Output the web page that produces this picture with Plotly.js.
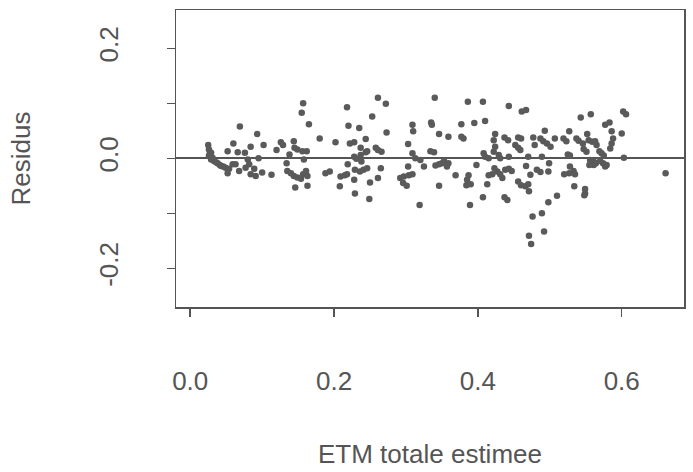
<!DOCTYPE html>
<html><head><meta charset="utf-8">
<script src="https://cdn.plot.ly/plotly-3.0.1.min.js"></script>
<style>html,body{margin:0;padding:0;background:#fff}#chart{width:693px;height:472px}</style>
</head><body><div id="chart"></div>
<script>
// ETM totale estimee (x) and Residus (y)
const etm = [
0.157,0.155,0.165,0.069,0.093,0.180,0.060,0.025,0.084,0.102,0.126,0.129,0.144,0.120,0.066,0.076,0.052,0.026,0.029,0.145,
0.149,0.156,0.162,0.138,0.095,0.158,0.026,0.029,0.033,0.038,0.043,0.049,0.054,0.059,0.063,0.080,0.082,0.077,0.089,0.068,
0.052,0.084,0.091,0.100,0.113,0.134,0.135,0.140,0.144,0.149,0.154,0.157,0.161,0.163,0.146,0.163,
0.027,0.031,0.036,0.041,0.046,
0.261,0.272,0.340,0.218,0.253,0.220,0.235,0.273,0.202,0.244,0.309,0.310,0.335,0.336,0.346,0.303,0.222,0.228,0.237,0.258,
0.261,0.266,0.244,0.246,0.228,0.231,0.237,0.238,0.334,0.339,0.309,0.313,0.320,0.325,0.341,0.346,0.350,0.353,0.219,0.188,
0.194,0.209,0.215,0.218,0.229,0.236,0.241,0.246,0.228,0.250,0.261,0.265,0.303,0.292,0.297,0.304,0.309,0.296,0.301,0.208,
0.346,0.229,0.249,0.319,
0.386,0.407,0.443,0.461,0.467,0.377,0.395,0.410,0.359,0.377,0.380,0.424,0.422,0.437,0.442,0.456,0.460,0.452,0.456,0.459,
0.477,0.493,0.487,0.491,0.496,0.501,0.479,0.507,0.424,0.422,0.408,0.410,0.415,0.429,0.431,0.443,0.470,0.489,0.499,0.359,
0.357,0.398,0.423,0.427,0.431,0.434,0.438,0.443,0.447,0.415,0.420,0.467,0.482,0.487,0.498,0.473,0.369,0.387,0.385,0.384,
0.390,0.413,0.456,0.460,0.466,0.470,0.471,0.407,0.437,0.441,0.389,0.510,0.498,0.476,0.489,0.471,0.492,0.474,
0.543,0.557,0.602,0.606,0.577,0.583,0.586,0.600,0.527,0.519,0.523,0.537,0.540,0.552,0.554,0.559,0.563,0.565,0.546,0.588,
0.586,0.584,0.547,0.551,0.569,0.572,0.575,0.525,0.528,0.603,0.556,0.561,0.564,0.561,0.570,0.574,0.577,0.579,0.555,0.528,
0.533,0.520,0.527,0.535,0.534,0.549,0.549,0.548,0.661
];
const residus = [
0.100,0.083,0.062,0.058,0.044,0.036,0.027,0.024,0.021,0.024,0.029,0.024,0.031,0.015,0.011,0.010,0.013,0.016,0.010,0.019,
0.016,0.013,0.013,0.007,0.000,-0.002,0.004,-0.002,-0.005,-0.009,-0.014,-0.017,-0.019,-0.011,-0.011,-0.002,-0.011,-0.017,-0.019,-0.023,
-0.027,-0.029,-0.032,-0.026,-0.030,-0.009,-0.023,-0.027,-0.032,-0.035,-0.037,-0.029,-0.023,-0.032,-0.053,-0.050,
0.008,0.001,-0.007,-0.012,-0.015,
0.110,0.099,0.110,0.093,0.076,0.059,0.055,0.047,0.029,0.035,0.061,0.049,0.065,0.061,0.044,0.026,0.027,0.029,0.019,0.019,
0.015,0.012,0.011,0.013,0.003,-0.001,0.006,-0.006,0.013,0.011,0.009,0.000,-0.003,-0.015,-0.013,-0.011,-0.009,-0.005,-0.011,-0.027,
-0.024,-0.033,-0.031,-0.029,-0.021,-0.024,-0.021,-0.018,-0.039,-0.044,-0.036,-0.018,-0.015,-0.036,-0.033,-0.031,-0.029,-0.045,-0.050,-0.051,
-0.050,-0.064,-0.074,-0.085,
0.103,0.103,0.095,0.085,0.088,0.062,0.064,0.068,0.039,0.039,0.036,0.044,0.033,0.038,0.033,0.038,0.036,0.024,0.019,0.015,
0.038,0.050,0.036,0.031,0.027,0.021,0.024,0.036,0.021,0.012,0.009,0.003,0.000,0.006,0.000,0.003,0.003,0.003,-0.009,-0.009,
-0.015,-0.012,-0.018,-0.024,-0.029,-0.036,-0.021,-0.019,-0.023,-0.031,-0.029,-0.014,-0.021,-0.025,-0.024,-0.030,-0.031,-0.031,-0.039,-0.049,
-0.047,-0.047,-0.042,-0.049,-0.051,-0.047,-0.060,-0.071,-0.071,-0.076,-0.085,-0.068,-0.080,-0.106,-0.100,-0.141,-0.133,-0.156,
0.074,0.080,0.085,0.080,0.061,0.065,0.049,0.045,0.049,0.036,0.031,0.036,0.032,0.044,0.033,0.030,0.031,0.024,0.027,0.036,
0.027,0.018,0.017,0.012,0.013,0.009,0.005,0.007,0.005,0.001,-0.003,-0.006,-0.009,-0.012,-0.005,-0.009,-0.015,-0.012,-0.012,-0.015,
-0.023,-0.029,-0.027,-0.029,-0.051,-0.056,-0.064,-0.067,-0.027
];
const xTickVals = [0, 0.2, 0.4, 0.6];
const xTickText = ['0.0', '0.2', '0.4', '0.6'];
const yTickVals = [-0.2, -0.1, 0, 0.1, 0.2];
const yTickText = ['-0.2', '', '0.0', '', '0.2'];
const xTitle = 'ETM totale estimee';
const yTitle = 'Residus';

const ink = '#555555';
const fontFamily = '"Liberation Sans", Arial, Helvetica, sans-serif';

const trace = {
  type: 'scatter', mode: 'markers', x: etm, y: residus,
  marker: {size: 6.5, color: '#5a5a5a', line: {width: 0}},
  hoverinfo: 'x+y'
};

const axisCommon = {
  showgrid: false, showline: true, mirror: true, linecolor: ink, linewidth: 1.5,
  ticks: 'outside', ticklen: 8, tickwidth: 1.5, tickcolor: ink,
  tickfont: {family: fontFamily, size: 26, color: ink},
  tickmode: 'array'
};

const layout = {
  width: 693, height: 472,
  margin: {l: 176, r: 9, t: 10, b: 165},
  paper_bgcolor: '#ffffff', plot_bgcolor: '#ffffff',
  font: {family: fontFamily, color: ink},
  showlegend: false,
  xaxis: Object.assign({}, axisCommon, {
    range: [-0.0198, 0.6866], tickvals: xTickVals, ticktext: xTickText,
    zeroline: false, ticklabelstandoff: 42,
    title: {text: xTitle, font: {family: fontFamily, size: 26, color: ink}, standoff: 50}
  }),
  yaxis: Object.assign({}, axisCommon, {
    range: [-0.2704, 0.2696], tickvals: yTickVals, ticktext: yTickText,
    tickangle: -90, ticklabelstandoff: 38,
    zeroline: true, zerolinecolor: ink, zerolinewidth: 2,
    title: {text: yTitle, font: {family: fontFamily, size: 26, color: ink}, standoff: 56}
  })
};

Plotly.newPlot('chart', [trace], layout, {displayModeBar: false, staticPlot: true});
</script>
</body></html>
